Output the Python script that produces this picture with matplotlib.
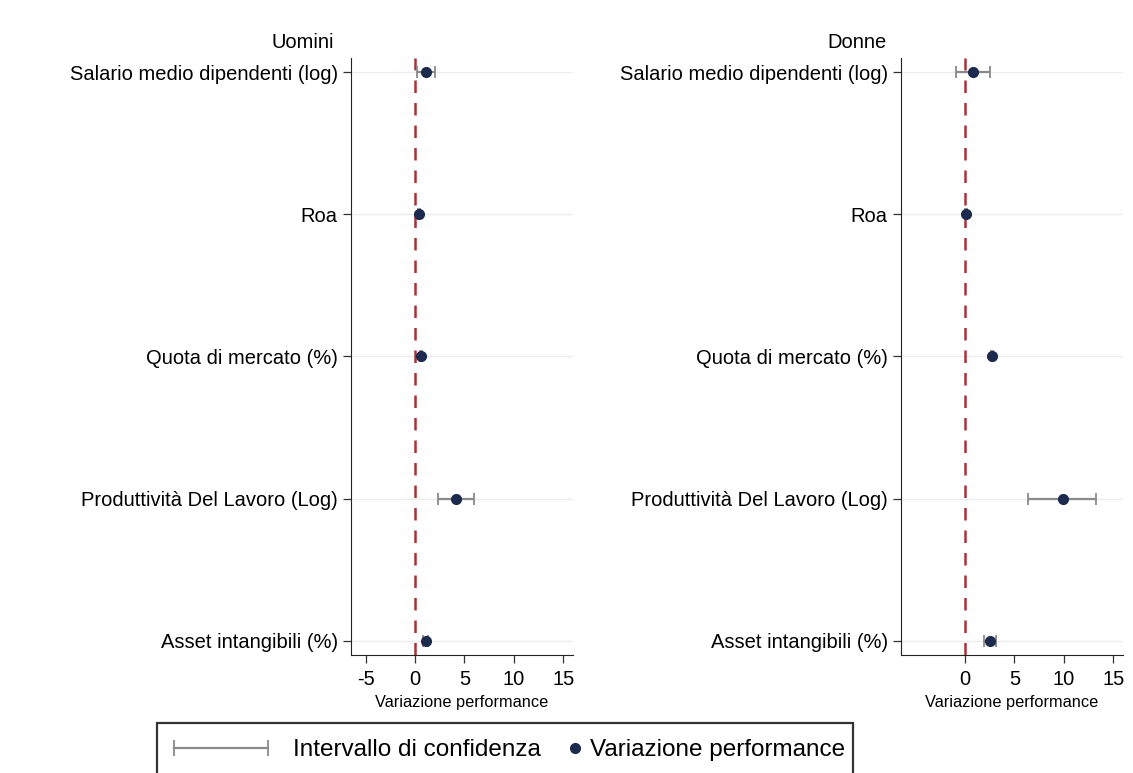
import matplotlib.pyplot as plt
from matplotlib.lines import Line2D
from matplotlib.patches import Rectangle
from matplotlib.legend_handler import HandlerLine2D
from matplotlib import font_manager

plt.rcParams['font.family'] = ['Liberation Sans', 'DejaVu Sans']

categories = ["Salario medio dipendenti (log)", "Roa", "Quota di mercato (%)",
              "Produttività Del Lavoro (Log)", "Asset intangibili (%)"]
panels = ["Uomini", "Donne"]

# point estimates and confidence bounds per panel
uomini_est = [1.1, 0.4, 0.6, 4.1, 1.1]
uomini_lo = [0.2, 0.3, 0.5, 2.3, 0.8]
uomini_hi = [2.0, 0.5, 0.7, 6.0, 1.3]

donne_est = [0.75, 0.1, 2.7, 9.9, 2.5]
donne_lo = [-0.9, 0.0, 2.6, 6.4, 1.9]
donne_hi = [2.5, 0.2, 2.8, 13.3, 3.1]

xticks_uomini = [-5, 0, 5, 10, 15]
xticks_donne = [0, 5, 10, 15]

navy = "#1c2a4e"
ci_gray = "#8a8a8a"
ref_red = "#a8323a"

W, H = 1133, 773
fig = plt.figure(figsize=(W / 100, H / 100), dpi=100)
ax_w = 222 / W
ax_h = (655 - 58) / H
ax_b = 1 - 655 / H
axes = [fig.add_axes([351 / W, ax_b, ax_w, ax_h]),
        fig.add_axes([901 / W, ax_b, ax_w, ax_h])]

data = [(uomini_est, uomini_lo, uomini_hi, xticks_uomini),
        (donne_est, donne_lo, donne_hi, xticks_donne)]

ypos = list(range(1, len(categories) + 1))

for ax, title, (est, lo, hi, ticks), tx in zip(axes, panels, data, [334, 887]):
    for y in ypos:
        ax.axhline(y, color="#ececec", lw=1.0, zorder=0)
    ax.axvline(0, color=ref_red, lw=1.8, ls=(0, (5, 4)), zorder=1)
    err = [[e - l for e, l in zip(est, lo)], [h - e for e, h in zip(est, hi)]]
    ax.errorbar(est, ypos, xerr=err, fmt="none", ecolor=ci_gray, elinewidth=1.6,
                capsize=4, capthick=1.3, zorder=2)
    ax.plot(est, ypos, "o", color=navy, ms=7, zorder=3)

    ax.set_xlim(-6.5, 16.0)
    ax.set_ylim(5.1, 0.9)
    ax.set_xticks(ticks)
    ax.set_xticklabels([str(t) for t in ticks])
    ax.set_yticks(ypos)
    ax.set_yticklabels(categories)
    ax.tick_params(axis="y", labelsize=14.5, length=6, width=0.9, color="#333333")
    ax.tick_params(axis="x", labelsize=14.5, length=6, width=0.9, color="#333333", pad=5)
    ax.spines["top"].set_visible(False)
    ax.spines["right"].set_visible(False)
    ax.spines["left"].set_color("#222222")
    ax.spines["bottom"].set_color("#222222")
    ax.set_xlabel("Variazione performance", fontsize=11.8, labelpad=4)
    fig.text(tx / W, 1 - 42 / H, title, ha="right", va="center", fontsize=14.5)

# legend frame
fig.patches.append(Rectangle((157 / W, -0.05), (853 - 157) / W, 0.05 + (773 - 723) / H,
                             transform=fig.transFigure, fill=False,
                             edgecolor="#333333", lw=1.6))

# narrow face for the legend if available
names = {f.name for f in font_manager.fontManager.ttflist}
if "Liberation Sans Narrow" in names:
    leg_font = dict(family="Liberation Sans Narrow", size=21)
else:
    leg_font = dict(family="Liberation Sans", size=17.5)

h_ci = Line2D([], [], color=ci_gray, lw=1.6, marker="|", ms=12, mew=1.3)
h_pt = Line2D([], [], color=navy, lw=0, marker="o", ms=7)
pt_size = leg_font["size"] * 100 / 72
fig.legend([h_ci], ["Intervallo di confidenza"],
           handler_map={h_ci: HandlerLine2D(numpoints=2)},
           loc="center left", bbox_to_anchor=(167 / W, 1 - 750 / H),
           prop=leg_font, frameon=False, handlelength=108 / pt_size,
           handletextpad=18 / pt_size, borderpad=0, borderaxespad=0)
fig.legend([h_pt], ["Variazione performance"],
           loc="center left", bbox_to_anchor=(565 / W, 1 - 750 / H),
           prop=leg_font, frameon=False, handlelength=20 / pt_size,
           handletextpad=5 / pt_size, borderpad=0, borderaxespad=0)

fig.savefig("out.png", dpi=100)
